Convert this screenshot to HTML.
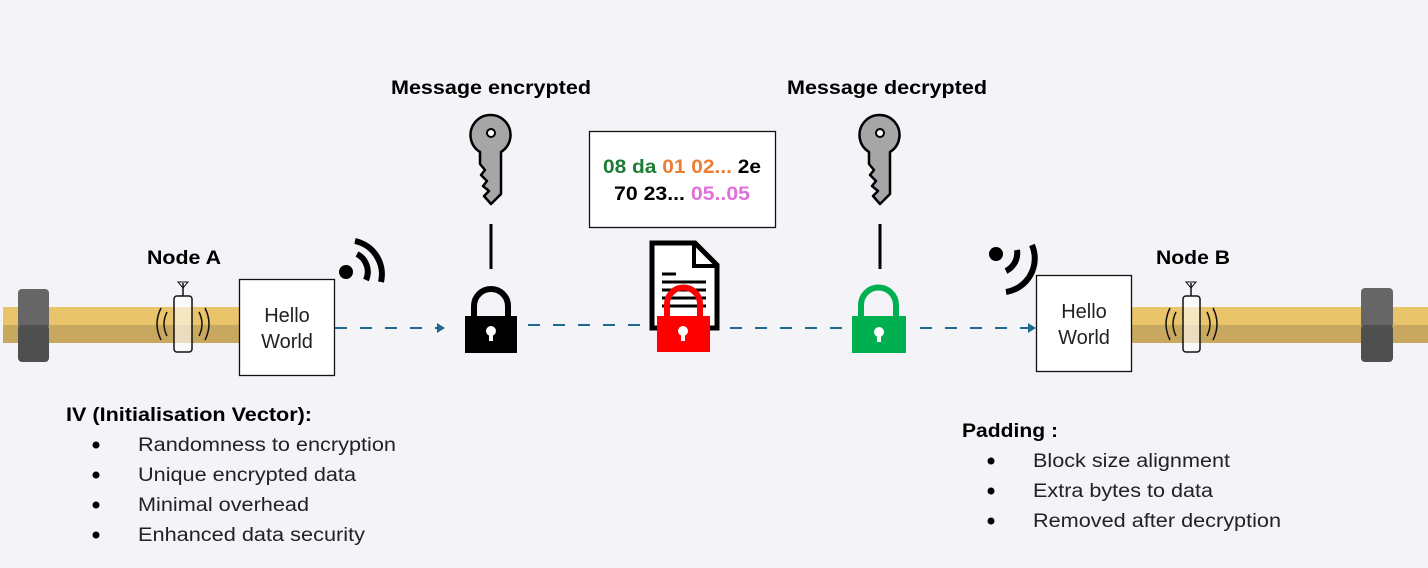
<!DOCTYPE html>
<html><head><meta charset="utf-8"><style>
html,body{margin:0;padding:0;background:#f3f3f8;}
svg{display:block;font-family:"Liberation Sans",Arial,sans-serif;}
</style></head><body>
<svg width="1428" height="568" viewBox="0 0 1428 568" xmlns="http://www.w3.org/2000/svg">
<rect width="1428" height="568" fill="#f3f3f8"/>
<!-- pipes -->
<rect x="3" y="307" width="237" height="18" fill="#e9c46a"/>
<rect x="3" y="325" width="237" height="18" fill="#c8a85f"/>
<rect x="1131" y="307" width="297" height="18" fill="#e9c46a"/>
<rect x="1131" y="325" width="297" height="18" fill="#c8a85f"/>
<!-- nuts -->
<rect x="18" y="289" width="31" height="40" rx="4" fill="#666"/>
<rect x="18" y="325" width="31" height="37" rx="4" fill="#4f4f4f"/>
<rect x="1361" y="288" width="32" height="40" rx="4" fill="#666"/>
<rect x="1361" y="325" width="32" height="37" rx="4" fill="#4f4f4f"/>
<!-- sensors -->
<g fill="none" stroke="#111" stroke-width="1.5">
 <rect x="174" y="296" width="18" height="56" rx="3" fill="#fff" fill-opacity="0.6"/>
 <line x1="183" y1="296" x2="183" y2="283"/>
 <path d="M178 282 L188 282 L183 288 Z" stroke-width="1"/>
 <path d="M167 312 Q161 324 167 336"/><path d="M161 308 Q153 324 161 340"/>
 <path d="M199 312 Q205 324 199 336"/><path d="M205 308 Q213 324 205 340"/>
 <rect x="1183" y="296" width="17" height="56" rx="3" fill="#fff" fill-opacity="0.6"/>
 <line x1="1191" y1="296" x2="1191" y2="283"/>
 <path d="M1186 282 L1196 282 L1191 288 Z" stroke-width="1"/>
 <path d="M1176 312 Q1170 324 1176 336"/><path d="M1170 308 Q1162 324 1170 340"/>
 <path d="M1207 312 Q1213 324 1207 336"/><path d="M1213 308 Q1221 324 1213 340"/>
</g>
<!-- hello boxes -->
<rect x="239.5" y="279.5" width="95" height="96" fill="#fff" stroke="#111" stroke-width="1.3"/>
<text x="287" y="322" font-size="20" text-anchor="middle" fill="#222">Hello</text>
<text x="287" y="348" font-size="20" text-anchor="middle" fill="#222">World</text>
<rect x="1036.5" y="275.5" width="95" height="96" fill="#fff" stroke="#111" stroke-width="1.3"/>
<text x="1084" y="318" font-size="20" text-anchor="middle" fill="#222">Hello</text>
<text x="1084" y="344" font-size="20" text-anchor="middle" fill="#222">World</text>
<!-- wifi -->
<circle cx="346" cy="272" r="7" fill="#000"/>
<path d="M357 254 A20 20 0 0 1 366 280" fill="none" stroke="#000" stroke-width="6"/>
<path d="M355 241 A34 34 0 0 1 381 282" fill="none" stroke="#000" stroke-width="6"/>
<circle cx="996" cy="254" r="7" fill="#000"/>
<path d="M1017 250 A20 20 0 0 1 1006 271" fill="none" stroke="#000" stroke-width="6"/>
<path d="M1032 245 A34 34 0 0 1 1006 292" fill="none" stroke="#000" stroke-width="6"/>
<!-- dashed connectors -->
<g stroke="#1f6a8c" stroke-width="2" stroke-dasharray="12,13" fill="none">
 <line x1="335" y1="328" x2="438" y2="328"/>
 <line x1="528" y1="325" x2="650" y2="325"/>
 <line x1="730" y1="328" x2="842" y2="328"/>
 <line x1="920" y1="328" x2="1030" y2="328"/>
</g>
<path d="M437 323 L445 328 L437 333 Z" fill="#1f6a8c"/>
<path d="M1028 323 L1036 328 L1028 333 Z" fill="#1f6a8c"/>
<!-- keys -->
<g fill="#a6a6a6" stroke="#000" stroke-width="2.5" stroke-linejoin="round">
 <path d="M480 152 A20 20 0 1 1 501 152 L501 194 L491 204 L484 196 L489 191 L483 186 L487 181 L481 175 L485 170 L480 164 Z"/>
 <path d="M869 152 A20 20 0 1 1 890 152 L890 194 L880 204 L873 196 L878 191 L872 186 L876 181 L870 175 L874 170 L869 164 Z"/>
</g>
<circle cx="491" cy="133" r="4" fill="#fff" stroke="#000" stroke-width="2"/>
<circle cx="880" cy="133" r="4" fill="#fff" stroke="#000" stroke-width="2"/>
<line x1="491" y1="224" x2="491" y2="269" stroke="#000" stroke-width="3"/>
<line x1="880" y1="224" x2="880" y2="269" stroke="#000" stroke-width="3"/>
<!-- locks -->
<path d="M474 316 L474 306 A17 17 0 0 1 508 306 L508 316" fill="none" stroke="#000" stroke-width="6"/>
<rect x="465" y="316" width="52" height="37" fill="#000"/>
<circle cx="491" cy="331" r="5" fill="#fff"/><rect x="489" y="331" width="4" height="10" fill="#fff"/>
<!-- document -->
<path d="M652 243 L695 243 L717 265 L717 328 L652 328 Z" fill="#fff" stroke="#000" stroke-width="5"/>
<path d="M694 243 L694 266 L717 266" fill="none" stroke="#000" stroke-width="4"/>
<g stroke="#000" stroke-width="3"><line x1="662" y1="274" x2="676" y2="274"/><line x1="662" y1="282" x2="706" y2="282"/><line x1="662" y1="290" x2="706" y2="290"/><line x1="662" y1="298" x2="706" y2="298"/><line x1="662" y1="306" x2="706" y2="306"/></g>
<path d="M667 316 L667 304 A16.5 16.5 0 0 1 700 304 L700 316" fill="none" stroke="#ff0000" stroke-width="6"/>
<rect x="657" y="316" width="53" height="36" fill="#ff0000"/>
<circle cx="683" cy="331" r="5" fill="#fff"/><rect x="681" y="331" width="4" height="10" fill="#fff"/>
<path d="M861 316 L861 305 A17 17 0 0 1 896 305 L896 316" fill="none" stroke="#00b050" stroke-width="6"/>
<rect x="852" y="316" width="54" height="37" fill="#00b050"/>
<circle cx="879" cy="332" r="5" fill="#fff"/><rect x="877" y="332" width="4" height="10" fill="#fff"/>
<!-- cipher box -->
<rect x="589.5" y="131.5" width="186" height="96" fill="#fff" stroke="#111" stroke-width="1.3"/>
<text x="603" y="173" font-size="19" font-weight="bold" textLength="158" lengthAdjust="spacingAndGlyphs"><tspan fill="#1e7b34">08 da </tspan><tspan fill="#ed7d31">01 02... </tspan><tspan fill="#000">2e</tspan></text>
<text x="614" y="200" font-size="19" font-weight="bold" textLength="136" lengthAdjust="spacingAndGlyphs"><tspan fill="#000">70 23... </tspan><tspan fill="#e070d8">05..05</tspan></text>
<!-- labels -->
<g font-weight="bold" font-size="19" fill="#000">
 <text x="391" y="94" textLength="200" lengthAdjust="spacingAndGlyphs">Message encrypted</text>
 <text x="787" y="94" textLength="200" lengthAdjust="spacingAndGlyphs">Message decrypted</text>
 <text x="147" y="264" textLength="74" lengthAdjust="spacingAndGlyphs">Node A</text>
 <text x="1156" y="264" textLength="74" lengthAdjust="spacingAndGlyphs">Node B</text>
 <text x="66" y="421" textLength="246" lengthAdjust="spacingAndGlyphs">IV (Initialisation Vector):</text>
 <text x="962" y="437" textLength="96" lengthAdjust="spacingAndGlyphs">Padding :</text>
</g>
<g font-size="19" fill="#222">
 <text x="138" y="451" textLength="258" lengthAdjust="spacingAndGlyphs">Randomness to encryption</text>
 <text x="138" y="481" textLength="218" lengthAdjust="spacingAndGlyphs">Unique encrypted data</text>
 <text x="138" y="511" textLength="171" lengthAdjust="spacingAndGlyphs">Minimal overhead</text>
 <text x="138" y="541" textLength="227" lengthAdjust="spacingAndGlyphs">Enhanced data security</text>
 <text x="1033" y="467" textLength="197" lengthAdjust="spacingAndGlyphs">Block size alignment</text>
 <text x="1033" y="497" textLength="180" lengthAdjust="spacingAndGlyphs">Extra bytes to data</text>
 <text x="1033" y="527" textLength="248" lengthAdjust="spacingAndGlyphs">Removed after decryption</text>
</g>
<g fill="#000">
 <circle cx="96" cy="445" r="3.5"/><circle cx="96" cy="475" r="3.5"/><circle cx="96" cy="505" r="3.5"/><circle cx="96" cy="535" r="3.5"/>
 <circle cx="991" cy="461" r="3.5"/><circle cx="991" cy="491" r="3.5"/><circle cx="991" cy="521" r="3.5"/>
</g>
</svg>
</body></html>
